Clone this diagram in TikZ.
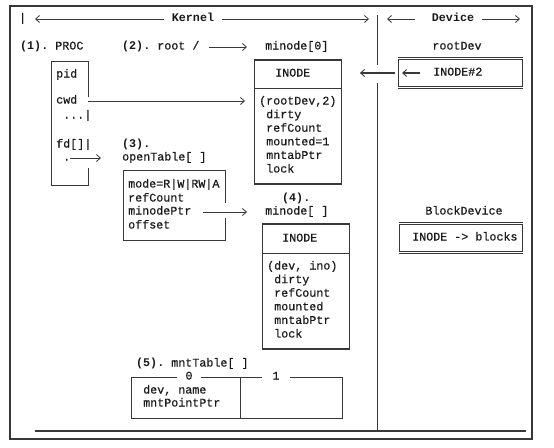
\documentclass[tikz,border=0pt]{standalone}
\usepackage{fontspec}
\setmonofont{Liberation Mono}[UprightFeatures={FakeBold=0.5}]
\usetikzlibrary{arrows.meta}
\definecolor{ink}{gray}{0.22}
\newcommand{\tyfont}{\ttfamily\fontsize{11.7}{13.6}\selectfont}
\tikzset{
  txt/.style={font=\tyfont, text=black!90, inner sep=0pt, anchor=west, text height=7pt, text depth=2pt},
  hd/.style={txt, font=\tyfont\bfseries},
  edge/.style={draw=ink, line width=0.9pt},
  wall/.style={draw=ink, line width=1.2pt},
  rim/.style={draw=ink, line width=2.6pt},
  dblrim/.style={rim, line width=3pt, postaction={draw=white, line width=1pt}},
  ptr/.style={draw=ink, line width=0.8pt, -{Straight Barb[length=4pt,width=7pt]}},
  fatptr/.style={draw=ink, line width=2.7pt, -{Straight Barb[length=4pt,width=7pt,line width=0.9pt,sep=5pt]}},
  fatstub/.style={draw=ink, line width=2.7pt, -{Straight Barb[length=4pt,width=7pt,line width=0.9pt]}},
  slot/.style={txt, anchor=center, fill=white, inner xsep=8pt}
}
\begin{document}
\begin{tikzpicture}[x=1pt,y=-1pt]
  \useasboundingbox (0,0) rectangle (554,447);
  % frame and split line
  \draw[wall] (10,6) rectangle (532,439);
  \draw[wall] (35,431) -- (526,431);
  \draw[edge] (377,15) -- (377,65);
  \draw[edge] (377,83) -- (377,431);

  % headings
  \node[txt] (bar) at (19,19) {|};
  \node[hd, anchor=center, inner xsep=8pt] (kernel) at (193,19) {Kernel};
  \coordinate (kernelL) at (35,19);
  \coordinate (kernelR) at (369,19);
  \draw[ptr] (kernel) -- (kernelL);
  \draw[ptr] (kernel) -- (kernelR);
  \node[hd, anchor=center, inner xsep=8pt] (device) at (453,19) {Device};
  \coordinate (deviceL) at (387,19);
  \coordinate (deviceR) at (520,19);
  \draw[ptr, shorten <=9pt] (device) -- (deviceL);
  \draw[ptr] (device) -- (deviceR);

  % (1) PROC
  \node[txt] (proc) at (20,47) {\textbf{(1).} PROC};
  \draw[edge] (88,97) -- (88,61) -- (51,61) -- (51,185) -- (88,185) -- (88,168);
  \node[txt] (pid) at (56,75) {pid};
  \node[txt] (cwd) at (56,101) {cwd};
  \node[txt] (dots) at (56,116) {~...|};
  \node[txt] (fd) at (56,145) {fd[]|};
  \node[txt] (fdptr) at (63,158) {.};

  % (2) root and minode[0]
  \node[txt] (root) at (122,47) {\textbf{(2).} root /};
  \node[txt] (minode0) at (265,47) {minode[0]};
  \draw[ptr, shorten <=9pt, shorten >=18pt] (root) -- (minode0);
  \node[edge, minimum width=87pt, minimum height=123pt, inner sep=0pt, anchor=north west] (inodeA) at (254,60) {};
  \draw[rim] (inodeA.north west) -- (inodeA.north east);
  \draw[rim] (inodeA.south west) -- (inodeA.south east);
  \draw[edge] (254,88) -- (341,88);
  \node[txt] (inodeAhd) at (275,74) {INODE};
  \foreach \f [count=\i from 0] in {{(rootDev,2)},{~dirty},{~refCount},{~mounted=1},{~mntabPtr},{~lock}}
    \node[txt] (inodeA\i) at (259,102+13.6*\i) {\f};
  \draw[ptr, shorten <=11pt, shorten >=9pt] (cwd) -- (inodeA.west |- cwd);

  % (3) openTable
  \node[hd] (opennum) at (122,145) {(3).};
  \node[txt] (openlbl) at (122,158) {openTable[ ]};
  \draw[ptr, shorten >=21pt] (fdptr) -- (openlbl);
  \draw[edge] (225,203) -- (225,170) -- (123,170) -- (123,240) -- (225,240) -- (225,218);
  \node[txt] (mode) at (128,185) {mode=R|W|RW|A};
  \node[txt] (refcnt) at (128,199) {refCount};
  \node[txt] (mptr) at (128,212) {minodePtr};
  \node[txt] (offset) at (128,226) {offset};

  % (4) minode[ ]
  \node[hd] (minodenum) at (282,199) {(4).};
  \node[txt] (minode1) at (265,212) {minode[ ]};
  \draw[ptr, shorten <=11pt, shorten >=18pt] (mptr) -- (minode1);
  \node[edge, minimum width=87pt, minimum height=124pt, inner sep=0pt, anchor=north west] (inodeB) at (262,224) {};
  \draw[rim] (inodeB.north west) -- (inodeB.north east);
  \draw[rim] (inodeB.south west) -- (inodeB.south east);
  \draw[edge] (262,253) -- (349,253);
  \node[txt] (inodeBhd) at (282,239) {INODE};
  \foreach \f [count=\i from 0] in {{(dev, ino)},{~dirty},{~refCount},{~mounted},{~mntabPtr},{~lock}}
    \node[txt] (inodeB\i) at (267,267+13.6*\i) {\f};

  % device side
  \node[txt, anchor=center] (rootdev) at (457,47) {rootDev};
  \node[edge, minimum width=124pt, minimum height=29pt, inner sep=0pt, anchor=north west] (devbox) at (398,58) {};
  \draw[dblrim] (devbox.north west) -- (devbox.north east);
  \draw[dblrim] (devbox.south west) -- (devbox.south east);
  \node[txt] (inode2) at (433,73) {INODE\#2};
  \draw[fatstub, shorten <=13pt, shorten >=4pt] (inode2) -- (devbox.west |- inode2);
  \draw[fatptr, shorten <=3pt, shorten >=13pt] (devbox.west |- inode2) -- (inodeA.east |- inode2);

  \node[txt, anchor=center] (blkdev) at (464,212) {BlockDevice};
  \node[edge, minimum width=123pt, minimum height=29pt, inner sep=0pt, anchor=north west] (blkbox) at (399,223) {};
  \draw[dblrim] (blkbox.north west) -- (blkbox.north east);
  \draw[dblrim] (blkbox.south west) -- (blkbox.south east);
  \node[txt] (blocks) at (412,238) {INODE -> blocks};

  % (5) mntTable
  \node[txt] (mntlbl) at (136,364) {\textbf{(5).} mntTable[ ]};
  \draw[edge] (131,377) rectangle (342,418);
  \draw[edge] (240,377) -- (240,418);
  \node[slot] (slot0) at (189,377) {0};
  \node[slot, inner xsep=10pt] (slot1) at (276,377) {1};
  \node[txt] (devname) at (143,391) {dev, name};
  \node[txt] (mntpt) at (143,404) {mntPointPtr};
\end{tikzpicture}
\end{document}
